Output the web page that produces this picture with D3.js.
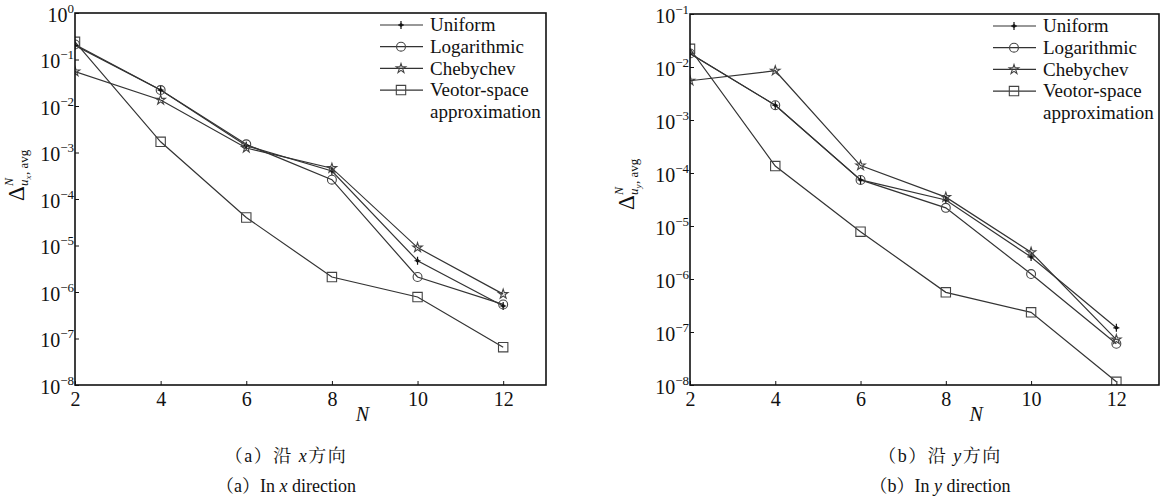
<html>
<head>
<meta charset="utf-8">
<script src="https://d3js.org/d3.v7.min.js"></script>
<style>
  body { margin: 0; background: #fff; }
  svg { background: #fff; }
</style>
</head>
<body>
<svg id="svg" width="1161" height="499"></svg>
<script>
// ---- data ----
var Nvals = [2, 4, 6, 8, 10, 12];
var xTicks = [2, 4, 6, 8, 10, 12];
var seriesNames = ["Uniform", "Logarithmic", "Chebychev", "Veotor-space"];

// (a) along x
var uniformX = [0.20, 0.022, 1.4e-3, 4.0e-4, 4.7e-6, 5.0e-7];
var logX     = [0.21, 0.022, 1.5e-3, 2.6e-4, 2.1e-6, 5.4e-7];
var chebX    = [0.055, 0.0135, 1.25e-3, 4.6e-4, 9.0e-6, 9.0e-7];
var vecX     = [0.24, 1.7e-3, 4.0e-5, 2.1e-6, 7.8e-7, 6.5e-8];
var yTicksX  = [-8, -7, -6, -5, -4, -3, -2, -1, 0];

// (b) along y
var uniformY = [0.018, 1.9e-3, 7.4e-5, 3.1e-5, 2.6e-6, 1.2e-7];
var logY     = [0.018, 1.9e-3, 7.4e-5, 2.2e-5, 1.24e-6, 6.0e-8];
var chebY    = [5.5e-3, 8.5e-3, 1.38e-4, 3.5e-5, 3.2e-6, 7.2e-8];
var vecY     = [0.022, 1.35e-4, 7.8e-6, 5.6e-7, 2.35e-7, 1.15e-8];
var yTicksY  = [-8, -7, -6, -5, -4, -3, -2, -1];

var SERIF = "'Liberation Serif', 'Times New Roman', Tinos, 'DejaVu Serif', 'Noto Serif', serif";
var CJK = "'Liberation Serif', 'Times New Roman', 'Noto Serif CJK SC', 'Noto Sans CJK SC', serif";

var svg = d3.select("#svg");
var lineColor = "#333";

function txt(sel) {
  return sel.style("font-family", SERIF).attr("fill", "#111");
}

// marker drawing
function drawMarker(g, kind, x, y) {
  if (kind == 0) {
    g.append("path").attr("d", "M" + x + "," + (y - 4) + "V" + (y + 4) + "M" + (x - 3) + "," + y + "H" + (x + 3))
      .attr("stroke", "#111").attr("stroke-width", 1.2);
    g.append("circle").attr("cx", x).attr("cy", y).attr("r", 1.8).attr("fill", "#111");
  } else {
    var sym = kind == 1 ? d3.symbolCircle : kind == 2 ? d3.symbolStar : d3.symbolSquare;
    var size = kind == 1 ? 62 : kind == 2 ? 28 : 88;
    g.append("path").attr("d", d3.symbol(sym, size)())
      .attr("transform", "translate(" + x + "," + y + ")")
      .attr("fill", "none").attr("stroke", "#444").attr("stroke-width", 1.1);
  }
}

function panel(opt) {
  var x = d3.scaleLinear().domain([2, 13]).range([opt.left, opt.right]);
  var y = d3.scaleLog().domain([Math.pow(10, opt.yTicks[0]), Math.pow(10, opt.yTicks[opt.yTicks.length - 1])])
    .range([opt.bottom, opt.top]);
  var g = svg.append("g");

  var clipId = "clip" + opt.tag;
  svg.append("clipPath").attr("id", clipId).append("rect")
    .attr("x", opt.left).attr("y", opt.top)
    .attr("width", opt.right - opt.left).attr("height", opt.bottom - opt.top);

  // axes
  var xa = g.append("g").attr("transform", "translate(0," + opt.bottom + ")")
    .call(d3.axisBottom(x).tickValues(xTicks).tickSize(-4).tickPadding(7).tickFormat(d3.format("d")));
  xa.select(".domain").remove();
  xa.selectAll("line").attr("stroke", "#111");
  txt(xa.selectAll("text")).style("font-size", "20px");

  var ya = g.append("g").attr("transform", "translate(" + opt.left + ",0)")
    .call(d3.axisLeft(y).tickValues(opt.yTicks.map(function(e) { return Math.pow(10, e); })).tickSize(-4).tickPadding(1));
  ya.select(".domain").remove();
  ya.selectAll("line").attr("stroke", "#111");
  ya.selectAll("text").each(function(d) {
    var t = txt(d3.select(this).text("")).style("font-size", "20px").attr("dy", "0.42em");
    t.append("tspan").text("10");
    t.append("tspan").style("font-size", "13px").attr("dy", "-0.7em")
      .text(d3.format("d")(Math.round(Math.log10(d))).replace("-", "\u2212"));
  });

  // lines and markers
  var plot = g.append("g").attr("clip-path", "url(#" + clipId + ")");
  var line = d3.line().x(function(d, i) { return x(Nvals[i]); }).y(function(d) { return y(d); });
  opt.series.forEach(function(s) {
    plot.append("path").datum(s).attr("d", line).attr("fill", "none")
      .attr("stroke", lineColor).attr("stroke-width", 1.2);
  });
  opt.series.forEach(function(s, k) {
    s.forEach(function(v, i) { drawMarker(plot, k, x(Nvals[i]), y(v)); });
  });

  // frame
  g.append("rect").attr("x", opt.left).attr("y", opt.top)
    .attr("width", opt.right - opt.left).attr("height", opt.bottom - opt.top)
    .attr("fill", "none").attr("stroke", "#111").attr("stroke-width", 1.6);

  // legend
  var lx = opt.right - 166;
  seriesNames.forEach(function(name, i) {
    var ly = opt.top + 12 + i * 21.7;
    g.append("line").attr("x1", lx).attr("x2", lx + 43).attr("y1", ly).attr("y2", ly)
      .attr("stroke", lineColor).attr("stroke-width", 1.2);
    drawMarker(g, i, lx + 21, ly);
    txt(g.append("text")).attr("x", lx + 50).attr("y", ly).attr("dy", "0.33em")
      .style("font-size", "19px").text(name);
  });
  txt(g.append("text")).attr("x", lx + 50).attr("y", opt.top + 12 + 4 * 21.7).attr("dy", "0.33em")
    .style("font-size", "19px").text("approximation");

  // x label
  txt(g.append("text")).attr("x", opt.left + 0.61 * (opt.right - opt.left)).attr("y", 421)
    .attr("text-anchor", "middle").style("font-size", "20px").style("font-style", "italic").text("N");

  // y label
  var yl = g.append("g").attr("transform", "translate(" + opt.ylabX + "," + opt.ylabY + ") rotate(-90)");
  txt(yl.append("text")).attr("x", -25).attr("y", 0).style("font-size", "23px").text("\u0394");
  txt(yl.append("text")).attr("x", -10).attr("y", -11).style("font-size", "12px").style("font-style", "italic").text("N");
  txt(yl.append("text")).attr("x", -10).attr("y", 4).style("font-size", "13px").style("font-style", "italic").text("u");
  txt(yl.append("text")).attr("x", -3.5).attr("y", 7).style("font-size", "9px").style("font-style", "italic").text(opt.sub);
  txt(yl.append("text")).attr("x", 1).attr("y", 4).style("font-size", "13px").text(", avg");

  // captions
  var c1 = g.append("text").style("font-family", CJK).attr("fill", "#111").attr("x", opt.capX).attr("y", 462)
    .attr("text-anchor", "middle").style("font-size", "18px").style("letter-spacing", "1.5px");
  c1.append("tspan").text("（" + opt.tag + "）沿 ");
  c1.append("tspan").style("font-style", "italic").text(opt.sub);
  c1.append("tspan").text("方向");
  var c2 = g.append("text").style("font-family", CJK).attr("fill", "#111").attr("x", opt.capX).attr("y", 492)
    .attr("text-anchor", "middle").style("font-size", "18px");
  c2.append("tspan").text("（" + opt.tag + "）In ");
  c2.append("tspan").style("font-style", "italic").text(opt.sub);
  c2.append("tspan").text(" direction");
}

panel({ left: 75, right: 546, top: 13, bottom: 385, yTicks: yTicksX,
        series: [uniformX, logX, chebX, vecX], sub: "x", tag: "a",
        ylabX: 24, ylabY: 176, capX: 286 });
panel({ left: 690, right: 1159, top: 14, bottom: 385, yTicks: yTicksY,
        series: [uniformY, logY, chebY, vecY], sub: "y", tag: "b",
        ylabX: 634, ylabY: 185, capX: 940 });
</script>
</body>
</html>
